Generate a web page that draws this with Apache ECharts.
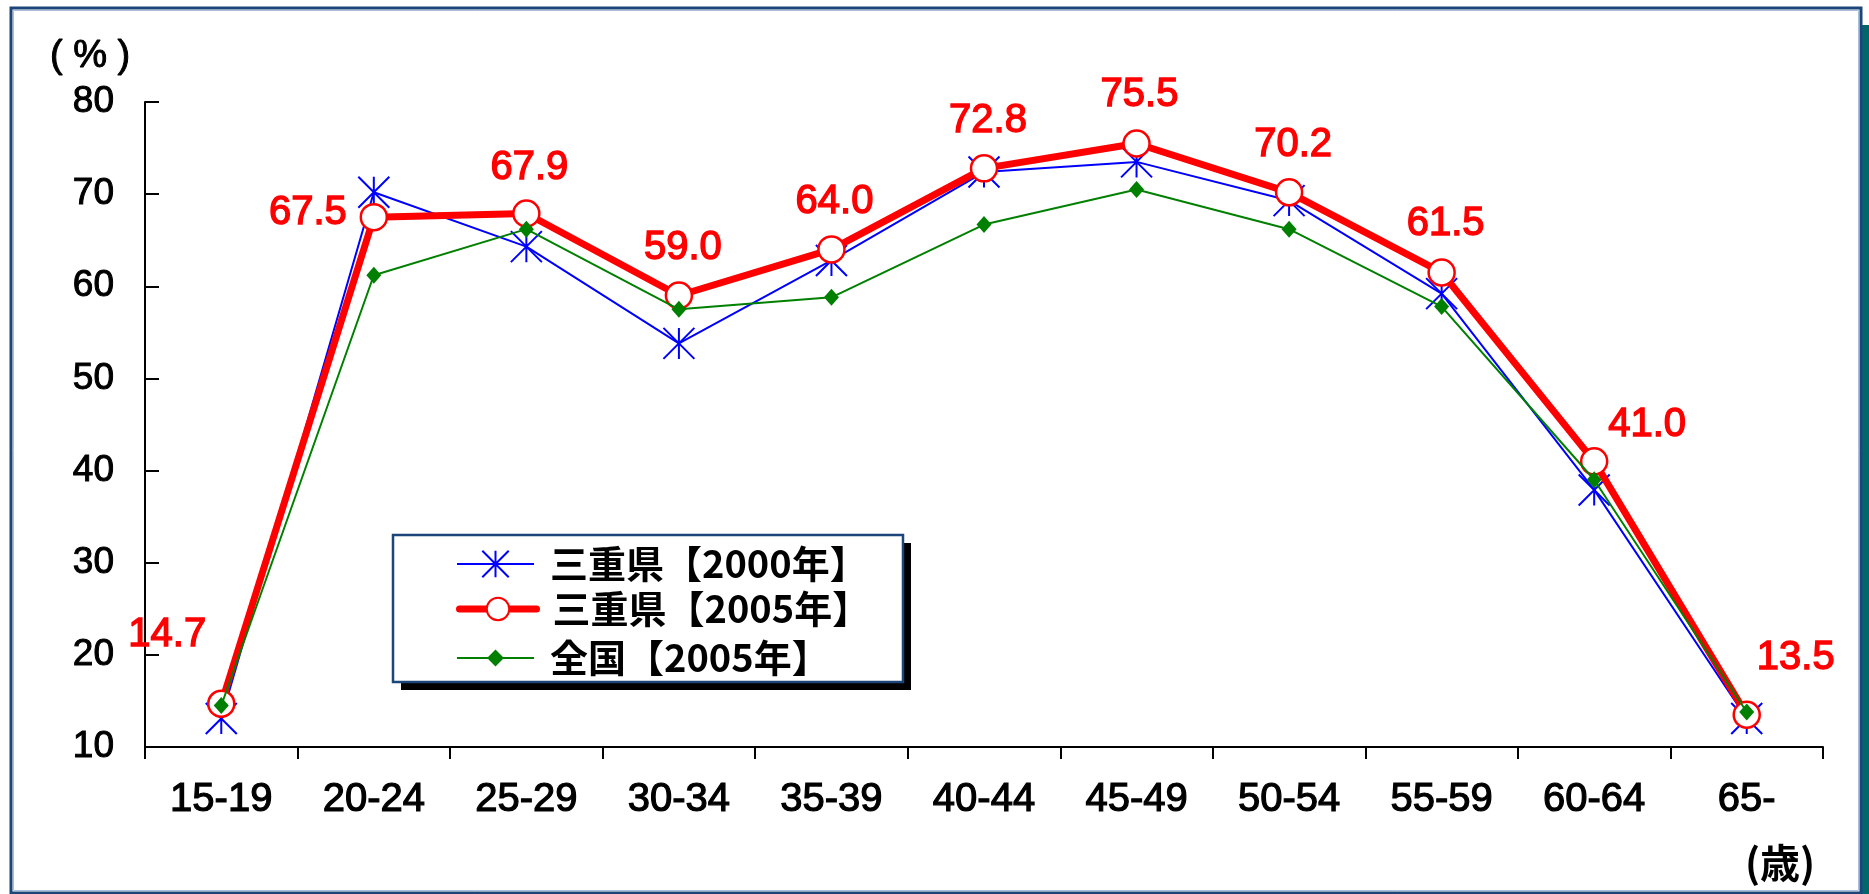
<!DOCTYPE html>
<html>
<head>
<meta charset="utf-8">
<script src="https://cdn.jsdelivr.net/npm/echarts@6/dist/echarts.min.js"></script>
<style>
  html, body { margin: 0; padding: 0; background: #ffffff; }
  #chart { width: 1869px; height: 894px; }
</style>
</head>
<body>
<div id="chart"></div>
<script>
// Age groups on the category axis
const ageGroups = ['15-19', '20-24', '25-29', '30-34', '35-39', '40-44', '45-49', '50-54', '55-59', '60-64', '65-'];

// Female labour force participation rate (%)
const mie2000 = [13.1, 70.2, 64.3, 53.8, 62.8, 72.4, 73.5, 69.3, 59.2, 37.9, 13.1];
const mie2005 = [14.7, 67.5, 67.9, 59.0, 64.0, 72.8, 75.5, 70.2, 61.5, 41.0, 13.5];
const national2005 = [14.5, 61.2, 66.2, 57.5, 58.8, 66.7, 70.5, 66.2, 57.8, 39.0, 13.8];

// Series names shown in the legend
const seriesNames = ['三重県【2000年】', '三重県【2005年】', '全国【2005年】'];

// Value axis range
const yMin = 10;
const yMax = 80;
const yStep = 10;

// Axis captions
const yUnit = '( % )';
const xUnit = '(歳)';

// Where each value label of the 2005 prefecture line sits, relative to its marker
const labelShift = [[-54, -69], [-66, -4], [3, -46], [4, -48], [3, -47], [4, -47], [3, -48], [4, -47], [4, -48], [53, -36], [49, -57]];

const latin = '"Liberation Sans", Arial, sans-serif';
const cjk = '"Noto Sans CJK JP", sans-serif';

const starPath = 'path://M5,0L5,10M0,0L10,10M0,10L10,0';

const redData = mie2005.map((v, i) => ({
  value: v,
  label: { offset: labelShift[i] }
}));

const chart = echarts.init(document.getElementById('chart'), null, { renderer: 'canvas' });

const legendBase = {
  orient: 'horizontal',
  padding: 0,
  itemWidth: 77,
  selectedMode: false,
  textStyle: { fontFamily: cjk, fontSize: 38, fontWeight: 'bold', color: '#000000', padding: [0, 0, 0, 11] }
};

chart.setOption({
  animation: false,
  backgroundColor: '#ffffff',
  grid: { left: 145, top: 102, width: 1678, height: 645, containLabel: false },
  xAxis: {
    type: 'category',
    data: ageGroups,
    boundaryGap: true,
    axisLine: { lineStyle: { color: '#000000', width: 2 } },
    axisTick: { show: true, inside: false, length: 12, interval: 0, lineStyle: { color: '#000000', width: 2 } },
    axisLabel: {
      interval: 0, fontFamily: latin, fontSize: 40, color: '#000000', margin: 33,
      textBorderColor: '#000000', textBorderWidth: 1.2
    },
    splitLine: { show: false }
  },
  yAxis: {
    type: 'value',
    min: yMin,
    max: yMax,
    interval: yStep,
    axisLine: { show: true, lineStyle: { color: '#000000', width: 2 } },
    axisTick: { show: true, inside: true, length: 14, lineStyle: { color: '#000000', width: 2 } },
    axisLabel: {
      fontFamily: latin, fontSize: 37, color: '#000000', margin: 31,
      textBorderColor: '#000000', textBorderWidth: 1
    },
    splitLine: { show: false }
  },
  legend: [
    Object.assign({}, legendBase, {
      data: [seriesNames[0]], left: 456, top: 545, itemHeight: 33,
      lineStyle: { width: 2 }
    }),
    Object.assign({}, legendBase, {
      data: [seriesNames[1]], left: 456, top: 590, itemHeight: 28,
      lineStyle: { width: 7, cap: 'round' }
    }),
    Object.assign({}, legendBase, {
      data: [seriesNames[2]], left: 456, top: 639, itemHeight: 21,
      lineStyle: { width: 2 }
    })
  ],
  graphic: [
    // outer frame and its right-hand shadow
    { type: 'rect', z: -10, shape: { x: 1862, y: 25, width: 7, height: 869 }, style: { fill: '#00676a' } },
    { type: 'rect', z: -9, shape: { x: 11, y: 8, width: 1850, height: 885 }, style: { fill: 'none', stroke: '#1c4679', lineWidth: 3 } },
    { type: 'rect', z: -9, shape: { x: 13.5, y: 10.5, width: 1845, height: 880 }, style: { fill: 'none', stroke: '#a9bfdc', lineWidth: 1 } },
    // legend box with its drop shadow
    { type: 'rect', z: 1, shape: { x: 401, y: 543, width: 510, height: 147 }, style: { fill: '#000000' } },
    { type: 'rect', z: 2, shape: { x: 393, y: 535, width: 510, height: 147 }, style: { fill: '#ffffff', stroke: '#1c4679', lineWidth: 2.5 } },
    // axis captions
    { type: 'text', z: 5, style: { text: yUnit, x: 50, y: 57, verticalAlign: 'middle', font: '38px ' + latin, fill: '#000000', stroke: '#000000', lineWidth: 1 } },
    { type: 'text', z: 5, style: { text: xUnit, x: 1745, y: 863, verticalAlign: 'middle', font: 'bold 40px ' + cjk, fill: '#000000' } }
  ],
  series: [
    {
      name: seriesNames[0],
      type: 'line',
      z: 3,
      data: mie2000,
      symbol: starPath,
      symbolSize: 31,
      lineStyle: { color: '#0000ff', width: 2 },
      itemStyle: { color: '#0000ff', borderColor: '#0000ff', borderWidth: 2 },
      emphasis: { disabled: true }
    },
    {
      name: seriesNames[1],
      type: 'line',
      z: 4,
      data: redData,
      symbol: 'circle',
      symbolSize: 26,
      lineStyle: { color: '#ff0000', width: 7 },
      itemStyle: { color: '#ffffff', borderColor: '#ff0000', borderWidth: 2.5 },
      label: {
        show: true,
        position: 'inside',
        formatter: (p) => p.value.toFixed(1),
        fontFamily: latin,
        fontSize: 40,
        color: '#ff0000',
        textBorderColor: '#ff0000',
        textBorderWidth: 1.4
      },
      emphasis: { disabled: true }
    },
    {
      name: seriesNames[2],
      type: 'line',
      z: 5,
      data: national2005,
      symbol: 'diamond',
      symbolSize: [15, 17],
      lineStyle: { color: '#008000', width: 2 },
      itemStyle: { color: '#008000', borderWidth: 0 },
      emphasis: { disabled: true }
    }
  ]
});
</script>
</body>
</html>
